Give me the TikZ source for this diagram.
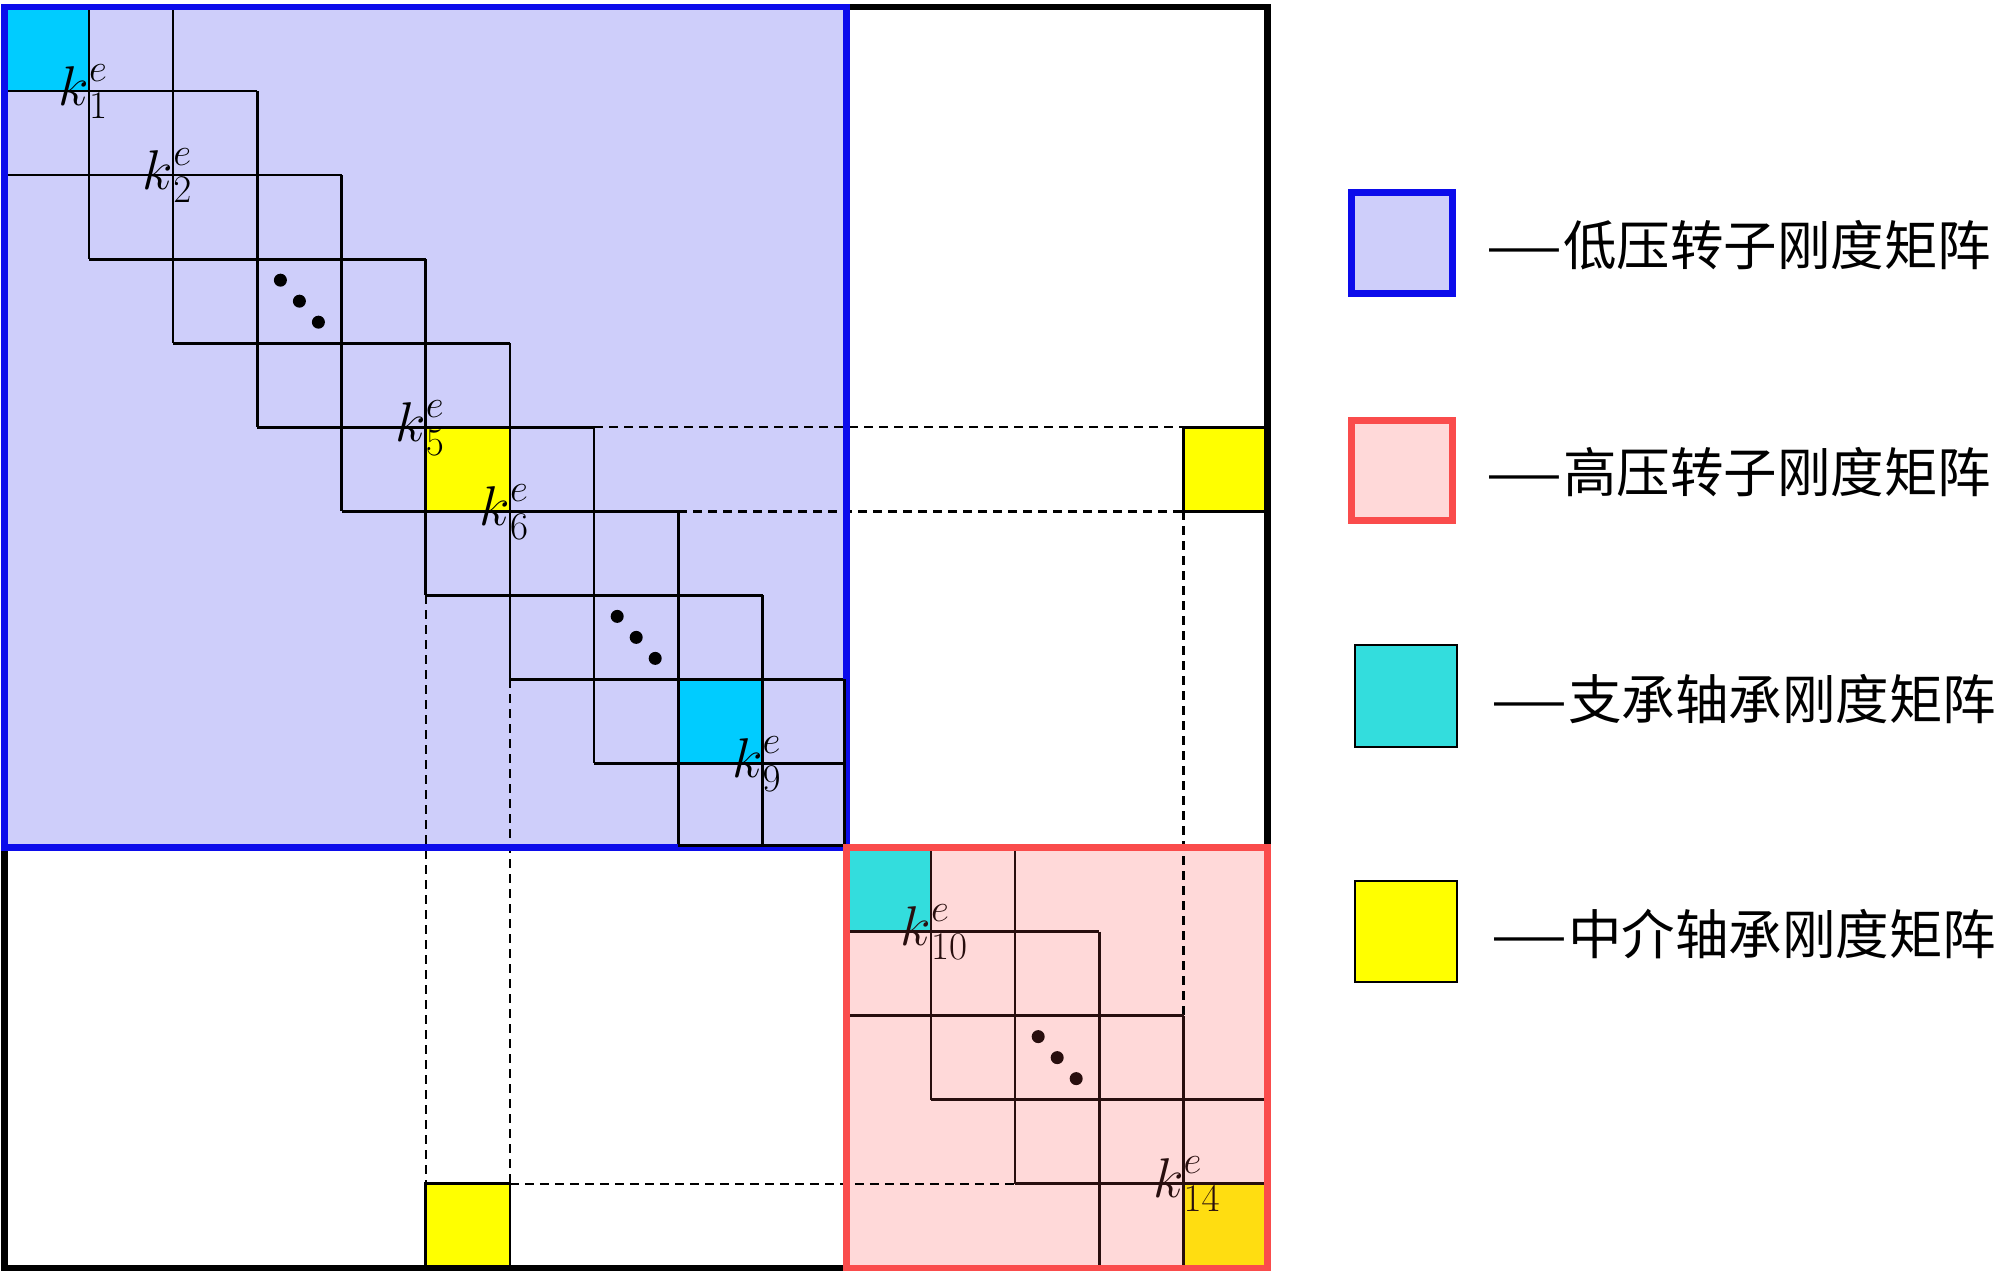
\RequirePackage{fix-cm}
\documentclass[tikz,border=0pt]{standalone}
\usepackage{graphicx}
\usepackage{fontspec}
\newfontfamily\cjk{Noto Sans CJK SC}
\definecolor{lpfill}{RGB}{206,206,250}
\definecolor{lpline}{RGB}{12,12,235}
\definecolor{hpfill}{RGB}{255,217,217}
\definecolor{hpline}{RGB}{250,76,76}
\definecolor{cyanA}{RGB}{0,204,255}
\definecolor{cyanB}{RGB}{51,221,221}
\definecolor{yelA}{RGB}{255,255,0}
\definecolor{yelB}{RGB}{255,221,17}
\definecolor{hpgrid}{RGB}{40,14,14}
\newcommand{\legdash}{\resizebox{78pt}{\height}{—}}
\begin{document}
\begin{tikzpicture}[x=1pt,y=-1pt,
  gridline/.style={line width=2.7pt},
  dashline/.style={line width=2.4pt, dash pattern=on 9pt off 6pt},
  border/.style={line width=6.5pt},
  klab/.style={anchor=base west, inner sep=0pt, font=\fontsize{56}{60}\selectfont, yshift=-14pt},
  legtext/.style={anchor=west, inner sep=0pt, font=\cjk\fontsize{53.5}{54}\selectfont},
  legbox/.style={line width=6.5pt}
]
\useasboundingbox (0,0) rectangle (2000,1277);
\fill[white] (0,0) rectangle (2000,1277);

\begin{scope}[shift={(4.7pt,-7pt)}, x=84.2pt, y=-84.05pt]
  % region fills
  \fill[lpfill] (0,0) rectangle (10,10);
  \fill[hpfill] (10,10) rectangle (15,15);
  % coloured cells
  \fill[cyanA] (0,0) rectangle (1,1);
  \fill[cyanA] (8,8) rectangle (9,9);
  \fill[yelA] (5,5) rectangle (6,6);
  \fill[cyanB] (10,10) rectangle (11,11);
  \fill[yelB] (14,14) rectangle (15,15);
  % dashed coupling lines
  \draw[dashline] (7,5) -- (14,5);
  \draw[dashline] (8,6) -- (14,6);
  \draw[dashline] (5,7) -- (5,14);
  \draw[dashline] (6,8) -- (6,14);
  \draw[dashline] (14,6) -- (14,12);
  \draw[dashline] (6,14) -- (12,14);
  % low-pressure rotor grid
  \foreach \k in {1,...,9}{
    \pgfmathsetmacro\a{max(0,\k-2)}
    \pgfmathsetmacro\b{min(10,\k+2)}
    \draw[gridline] (\k,\a) -- (\k,\b);
    \draw[gridline] (\a,\k) -- (\b,\k);
  }
  % high-pressure rotor grid
  \foreach \k in {11,...,14}{
    \pgfmathsetmacro\a{max(10,\k-2)}
    \pgfmathsetmacro\b{min(15,\k+2)}
    \draw[gridline, hpgrid] (\k,\a) -- (\k,\b);
    \draw[gridline, hpgrid] (\a,\k) -- (\b,\k);
  }
  % outer intermediate-bearing cells
  \draw[gridline, fill=yelA] (14,5) rectangle (15,6);
  \draw[gridline, fill=yelA] (5,14) rectangle (6,15);
  % borders
  \draw[border, black] (0,0) rectangle (15,15);
  \draw[border, lpline] (0,0) rectangle (10,10);
  \draw[gridline, xshift=-2pt] (10,8) -- (10,10);
  \draw[gridline, yshift=2pt] (8,10) -- (10,10);
  \draw[border, hpline] (10,10) rectangle (15,15);
  % labels
  \node[klab] (k1) at (1,1) {$\llap{$k$}^{e}_{1}$};
  \node[klab] (k2) at (2,2) {$\llap{$k$}^{e}_{2}$};
  \node[klab] (k5) at (5,5) {$\llap{$k$}^{e}_{5}$};
  \node[klab] (k6) at (6,6) {$\llap{$k$}^{e}_{6}$};
  \node[klab] (k9) at (9,9) {$\llap{$k$}^{e}_{9}$};
  \node[klab, text=hpgrid] (k10) at (11,11) {$\llap{$k$}^{e}_{10}$};
  \node[klab, text=hpgrid] (k14) at (14,14) {$\llap{$k$}^{e}_{14}$};
  % dots
  \foreach \cx/\col in {3.5/black, 7.5/black, 12.5/hpgrid}{
    \fill[\col, xshift=-19pt, yshift=21pt] (\cx,\cx) circle[radius=6.5pt];
    \fill[\col] (\cx,\cx) circle[radius=6.5pt];
    \fill[\col, xshift=19pt, yshift=-21pt] (\cx,\cx) circle[radius=6.5pt];
  }
\end{scope}

% legend
\draw[legbox, draw=lpline, fill=lpfill] (1351.3,192.3) rectangle (1452.7,293.7);
\draw[legbox, draw=hpline, fill=hpfill] (1351.3,420.3) rectangle (1452.7,520.7);
\draw[gridline, fill=cyanB] (1355,645) rectangle (1457,747);
\draw[gridline, fill=yelA] (1355,881) rectangle (1457,982);
\node[legtext] (t1) at (1485,245) {\legdash 低压转子刚度矩阵};
\node[legtext] (t2) at (1485,472) {\legdash 高压转子刚度矩阵};
\node[legtext] (t3) at (1490,699) {\legdash 支承轴承刚度矩阵};
\node[legtext] (t4) at (1490,934) {\legdash 中介轴承刚度矩阵};
\end{tikzpicture}
\end{document}
